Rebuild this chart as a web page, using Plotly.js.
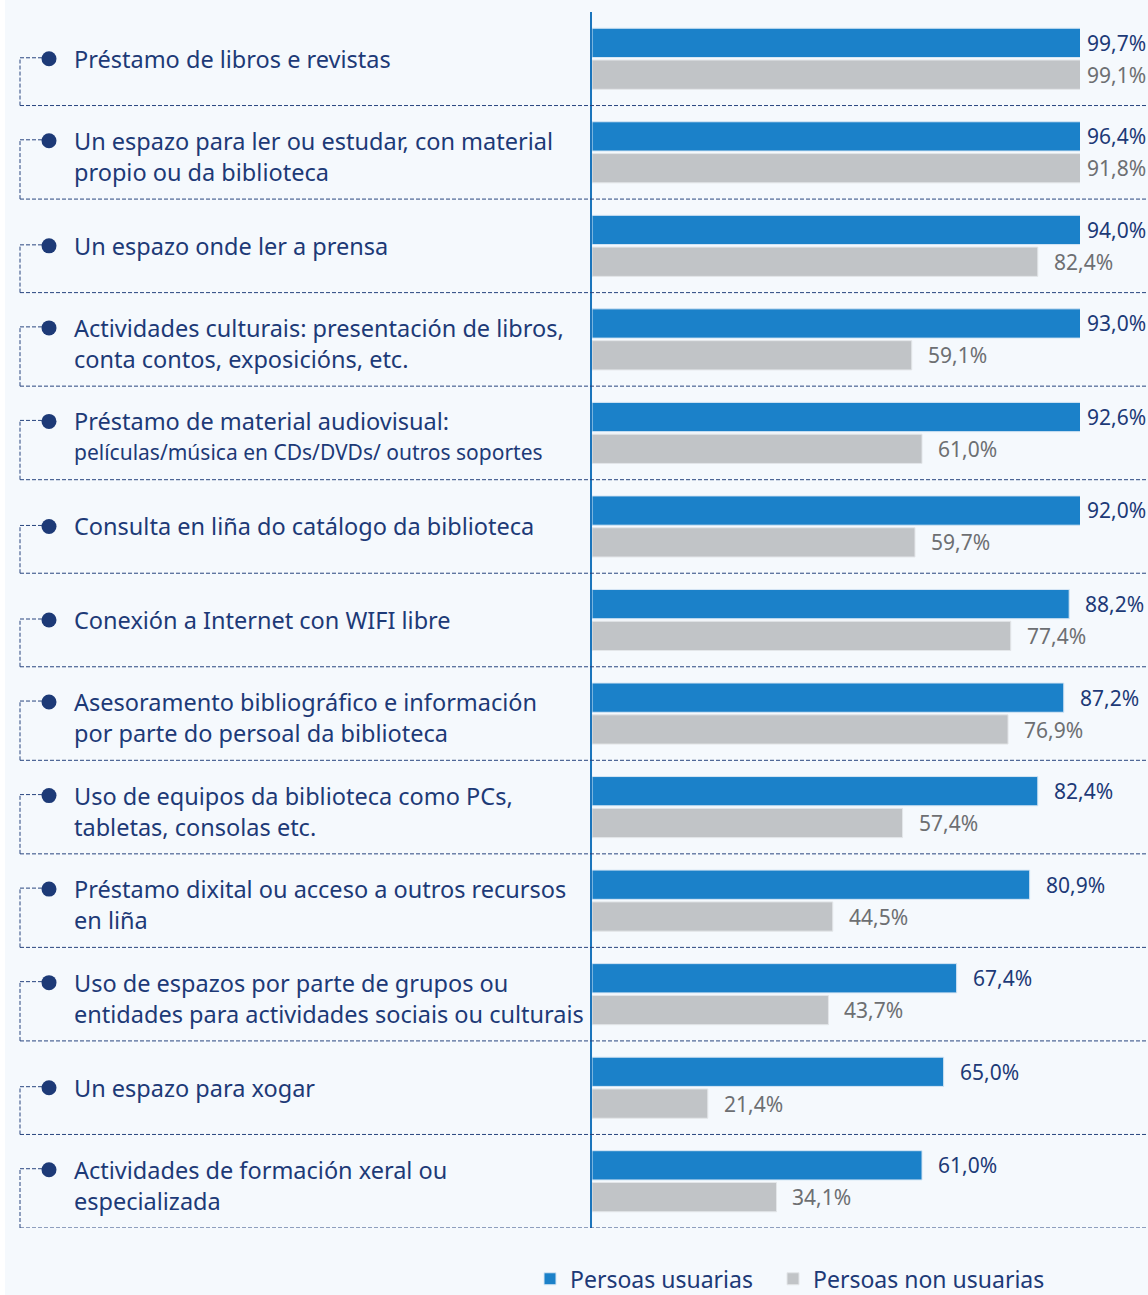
<!DOCTYPE html>
<html>
<head>
<meta charset="utf-8">
<script src="https://cdn.plot.ly/plotly-3.0.1.min.js"></script>
<style>
  body { margin: 0; background: #ffffff; }
  #chart { margin-left: 5px; width: 1143px; height: 1295px; }
</style>
</head>
<body>
<div id="chart"></div>
<script>
// servizos da biblioteca (one entry per row, top to bottom; \n = line break)
var services = [
  'Préstamo de libros e revistas',
  'Un espazo para ler ou estudar, con material\npropio ou da biblioteca',
  'Un espazo onde ler a prensa',
  'Actividades culturais: presentación de libros,\nconta contos, exposicións, etc.',
  'Préstamo de material audiovisual:\n<span style="font-size:21px">películas/música en CDs/DVDs/ outros soportes</span>',
  'Consulta en liña do catálogo da biblioteca',
  'Conexión a Internet con WIFI libre',
  'Asesoramento bibliográfico e información\npor parte do persoal da biblioteca',
  'Uso de equipos da biblioteca como PCs,\ntabletas, consolas etc.',
  'Préstamo dixital ou acceso a outros recursos\nen liña',
  'Uso de espazos por parte de grupos ou\nentidades para actividades sociais ou culturais',
  'Un espazo para xogar',
  'Actividades de formación xeral ou\nespecializada'
];
var usuarias    = [99.7, 96.4, 94.0, 93.0, 92.6, 92.0, 88.2, 87.2, 82.4, 80.9, 67.4, 65.0, 61.0];
var nonUsuarias = [99.1, 91.8, 82.4, 59.1, 61.0, 59.7, 77.4, 76.9, 57.4, 44.5, 43.7, 21.4, 34.1];
var seriesNames = ['Persoas usuarias', 'Persoas non usuarias'];

var navy = '#1d3a77';
var blue = '#1b81c9';
var grey = '#c1c4c7';
var greyText = '#6d6f72';
var font = 'Noto Sans, sans-serif';

// plot area in page pixels
var plotLeft = 592, plotRight = 1080, plotTop = 12, plotBottom = 1228;
var plotW = plotRight - plotLeft;
var rowH = (plotBottom - plotTop) / services.length;
var xMax = 90.2;   // the original axis stops here, longer bars are cut
function px(x) { return (x - plotLeft) / plotW; }

var rows = services.map(function (s, i) { return i; });
function fmt(v) { return v.toFixed(1).replace('.', ',') + '%'; }

var data = [
  {
    type: 'bar', orientation: 'h', name: seriesNames[0], legend: 'legend',
    x: usuarias, y: rows,
    marker: { color: blue, line: { color: '#d6e6f4', width: 1 } },
    hoverinfo: 'none'
  },
  {
    type: 'bar', orientation: 'h', name: seriesNames[1], legend: 'legend2',
    x: nonUsuarias, y: rows,
    marker: { color: grey, line: { color: '#e3e6e9', width: 1 } },
    hoverinfo: 'none'
  }
];

var annotations = [];
var shapes = [];
var dash = { color: '#28457f', width: 1, dash: '4px,2px' };
var labelFont = { family: font, size: 23.5, color: navy };

services.forEach(function (s, i) {
  var lines = s.split('\n');
  var dotUp;
  if (lines.length === 1) {
    annotations.push({ xref: 'paper', yref: 'y', x: px(72), y: i, text: lines[0],
      xanchor: 'left', yanchor: 'middle', showarrow: false, font: labelFont });
    dotUp = 0;
  } else {
    annotations.push({ xref: 'paper', yref: 'y', x: px(72), y: i, yshift: 11.5, text: lines[0],
      xanchor: 'left', yanchor: 'middle', showarrow: false, font: labelFont });
    annotations.push({ xref: 'paper', yref: 'y', x: px(72), y: i, yshift: -19.5, text: lines[1],
      xanchor: 'left', yanchor: 'middle', showarrow: false, font: labelFont });
    dotUp = 11.5;
  }
  // dot and dashed bracket
  shapes.push({ type: 'circle', xref: 'paper', yref: 'y',
    xsizemode: 'pixel', ysizemode: 'pixel', xanchor: px(49), yanchor: i,
    x0: -7.5, x1: 7.5, y0: dotUp - 7.5, y1: dotUp + 7.5,
    fillcolor: navy, line: { width: 0 } });
  shapes.push({ type: 'line', xref: 'paper', yref: 'y', ysizemode: 'pixel', yanchor: i,
    x0: px(20), x1: px(42), y0: dotUp + 1, y1: dotUp + 1, line: dash });
  shapes.push({ type: 'line', xref: 'paper', yref: 'y', ysizemode: 'pixel', yanchor: i + 0.5,
    x0: px(20), x1: px(20), y0: 0, y1: rowH / 2 + dotUp + 1, line: dash });
  shapes.push({ type: 'line', xref: 'paper', yref: 'y',
    x0: px(20), x1: px(1148), y0: i + 0.5, y1: i + 0.5, line: dash });

  // value labels
  annotations.push({ xref: 'x', yref: 'y', x: Math.min(usuarias[i], 88.5), y: i, yshift: 16,
    xshift: 14, text: fmt(usuarias[i]), xanchor: 'left', yanchor: 'middle', showarrow: false,
    font: { family: font, size: 21, color: navy } });
  annotations.push({ xref: 'x', yref: 'y', x: Math.min(nonUsuarias[i], 88.5), y: i, yshift: -16,
    xshift: 14, text: fmt(nonUsuarias[i]), xanchor: 'left', yanchor: 'middle', showarrow: false,
    font: { family: font, size: 21, color: greyText } });
});

var legendBase = { orientation: 'h', yref: 'container', y: 0.0125, xanchor: 'left', yanchor: 'middle',
  font: { family: font, size: 23, color: navy }, bgcolor: 'rgba(0,0,0,0)' };

var layout = {
  width: 1143, height: 1295,
  margin: { l: plotLeft - 5, r: 1148 - plotRight, t: plotTop, b: 1295 - plotBottom, pad: 0 },
  paper_bgcolor: '#f5f9fd',
  plot_bgcolor: 'rgba(0,0,0,0)',
  barmode: 'group', bargap: 0.32, bargroupgap: 0.08,
  font: { family: font, color: navy },
  xaxis: { range: [0, xMax], visible: false, fixedrange: true },
  yaxis: { range: [services.length - 0.5, -0.5], showticklabels: false, ticks: '',
    showgrid: false, zeroline: false, showline: true, linecolor: '#1b75bc', linewidth: 2,
    fixedrange: true },
  showlegend: true,
  legend: Object.assign({ x: px(530) }, legendBase),
  legend2: Object.assign({ x: px(773) }, legendBase),
  annotations: annotations,
  shapes: shapes
};

Plotly.newPlot('chart', data, layout, { displayModeBar: false, staticPlot: true });
</script>
</body>
</html>
